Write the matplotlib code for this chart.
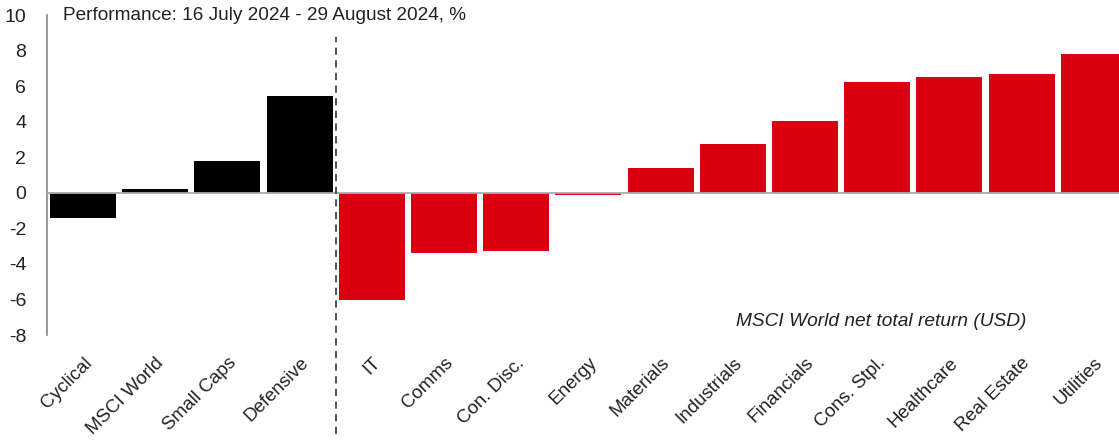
import matplotlib
matplotlib.use('Agg')
import matplotlib.pyplot as plt
import matplotlib.transforms as mtransforms

# values, %
categories = ['Cyclical', 'MSCI World', 'Small Caps', 'Defensive',
              'IT', 'Comms', 'Con. Disc.', 'Energy', 'Materials',
              'Industrials', 'Financials', 'Cons. Stpl.', 'Healthcare',
              'Real Estate', 'Utilities']
returns = [-1.4, 0.2, 1.8, 5.45,
           -6.05, -3.4, -3.3, -0.15, 1.4,
           2.75, 4.05, 6.25, 6.5, 6.7, 7.8]
n_styles = 4  # first four are style baskets, rest are sectors

black = '#000000'
red = '#DB0011'
grey = '#999999'

plt.rcParams['font.family'] = ['Liberation Sans', 'DejaVu Sans']
plt.rcParams['font.size'] = 13
plt.rcParams['axes.unicode_minus'] = False

fig = plt.figure(figsize=(11.19, 4.41), dpi=100)
ax = fig.add_axes([47 / 1119, (441 - 335) / 441, 1 - 47 / 1119, 320 / 441])

x = list(range(len(categories)))
colors = [black] * n_styles + [red] * (len(categories) - n_styles)
ax.bar(x, returns, width=0.915, color=colors, zorder=2)

ax.axhline(0, color='#aaaaaa', linewidth=1.3, zorder=3)

# dashed separator between style baskets and sectors
ax.plot([n_styles - 0.5, n_styles - 0.5], [-0.31, 0.93], transform=ax.get_xaxis_transform(),
        color='#444444', linestyle=(0, (4, 3)), linewidth=1.3, clip_on=False, zorder=4)

ax.set_xlim(-0.5, 14.35)
ax.set_ylim(-8, 10)
ax.set_yticks(range(-8, 11, 2))
ax.set_xticks(x)
ax.set_xticklabels(categories, rotation=45, ha='right', rotation_mode='anchor')
shift = mtransforms.ScaledTranslation(-5 / 100, 0, fig.dpi_scale_trans)
for lab in ax.get_xticklabels():
    lab.set_transform(lab.get_transform() + shift)

for s in ['top', 'right', 'bottom']:
    ax.spines[s].set_visible(False)
ax.spines['left'].set_color('#888888')
ax.spines['left'].set_linewidth(1.2)
ax.tick_params(axis='y', length=0, pad=15, labelsize=14, colors='#222222')
ax.tick_params(axis='x', length=0, pad=14, labelsize=13.5, colors='#222222')

ax.text(-0.28, 10, 'Performance: 16 July 2024 - 29 August 2024, %',
        ha='left', va='center', fontsize=13.7, color='#222222')
ax.text(11.05, -7.25, 'MSCI World net total return (USD)', ha='center', va='center',
        fontsize=13.8, style='italic', color='#222222')

fig.savefig('out.png', dpi=100)
